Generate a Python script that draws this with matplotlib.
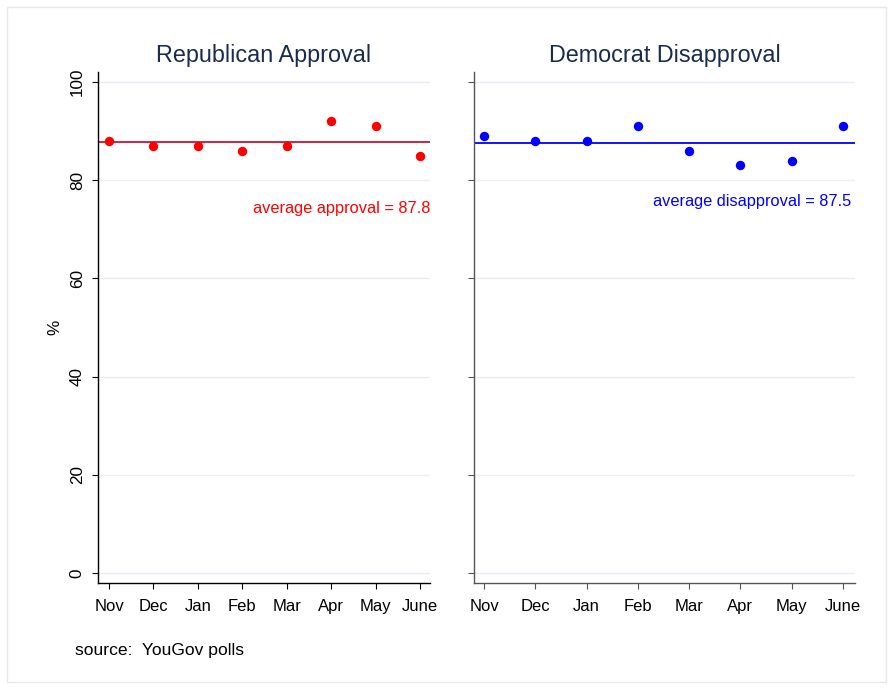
import matplotlib
matplotlib.use("Agg")
import matplotlib.pyplot as plt
from matplotlib.patches import Rectangle

plt.rcParams['font.family'] = ['Liberation Sans', 'DejaVu Sans']

months = ["Nov", "Dec", "Jan", "Feb", "Mar", "Apr", "May", "June"]
rep_approval = [88, 87, 87, 86, 87, 92, 91, 85]
dem_disapproval = [89, 88, 88, 91, 86, 83, 84, 91]
rep_avg = 87.8
dem_avg = 87.5
yticks = [0, 20, 40, 60, 80, 100]

W, H = 893, 689
fig = plt.figure(figsize=(W / 100, H / 100), dpi=100)
fig.patches.append(Rectangle((7 / W, 1 - 682 / H), 879 / W, 675 / H,
                             transform=fig.transFigure, fill=False,
                             edgecolor="#e6e9ec", linewidth=1))

def px_axes(x0, x1, y0, y1):
    return fig.add_axes([x0 / W, 1 - y1 / H, (x1 - x0) / W, (y1 - y0) / H])

ax1 = px_axes(98, 430, 72, 583)
ax2 = px_axes(474, 855, 72, 583)

title_color = "#1a2b4c"
grid_color = "#e8eef2"

def style(ax, spine_color, xlim, labels=True):
    ax.set_ylim(-2.04, 102.04)
    ax.set_xlim(*xlim)
    ax.set_yticks(yticks)
    ax.set_xticks(range(len(months)))
    ax.set_xticklabels(months, fontsize=12)
    for lab in ax.get_xticklabels():
        lab.set_va("baseline")
    if labels:
        ax.set_yticklabels([str(t) for t in yticks], rotation=90, va="center", fontsize=12.3)
    else:
        ax.set_yticklabels([])
    ax.tick_params(axis="y", direction="out", length=4.5, width=0.8,
                   color=spine_color, pad=5)
    ax.tick_params(axis="x", direction="out", length=4.5, width=0.8,
                   color=spine_color, pad=16)
    for s in ["top", "right"]:
        ax.spines[s].set_visible(False)
    for s in ["left", "bottom"]:
        ax.spines[s].set_color(spine_color)
        ax.spines[s].set_linewidth(1.0)
    ax.grid(axis="y", color=grid_color, linewidth=1)
    ax.set_axisbelow(True)

style(ax1, "black", (-0.248, 7.225), labels=True)
style(ax2, "#555555", (-0.195, 7.234), labels=False)

x = range(len(months))
ax1.axhline(rep_avg, color="#cc1133", linewidth=1.3, zorder=2)
ax1.scatter(x, rep_approval, s=46, color="#ff0000", zorder=3, linewidths=0)
ax1.text(7.225, 74.3, f"average approval = {rep_avg}", color="#ff0000",
         ha="right", va="center", fontsize=11.8)
ax1.set_title("Republican Approval", color=title_color, fontsize=16.8, pad=7)
ax1.set_ylabel("%", fontsize=12.3, labelpad=5)

ax2.axhline(dem_avg, color="#0000ff", linewidth=1.3, zorder=2)
ax2.scatter(x, dem_disapproval, s=46, color="#0000ff", zorder=3, linewidths=0)
ax2.text(7.16, 75.6, f"average disapproval = {dem_avg}", color="#0000ff",
         ha="right", va="center", fontsize=11.8)
ax2.set_title("Democrat Disapproval", color=title_color, fontsize=16.8, pad=7)

fig.text(75 / W, 1 - 650 / H, "source:  YouGov polls", fontsize=12.6, va="center", ha="left")

fig.savefig("out.png", dpi=100)
